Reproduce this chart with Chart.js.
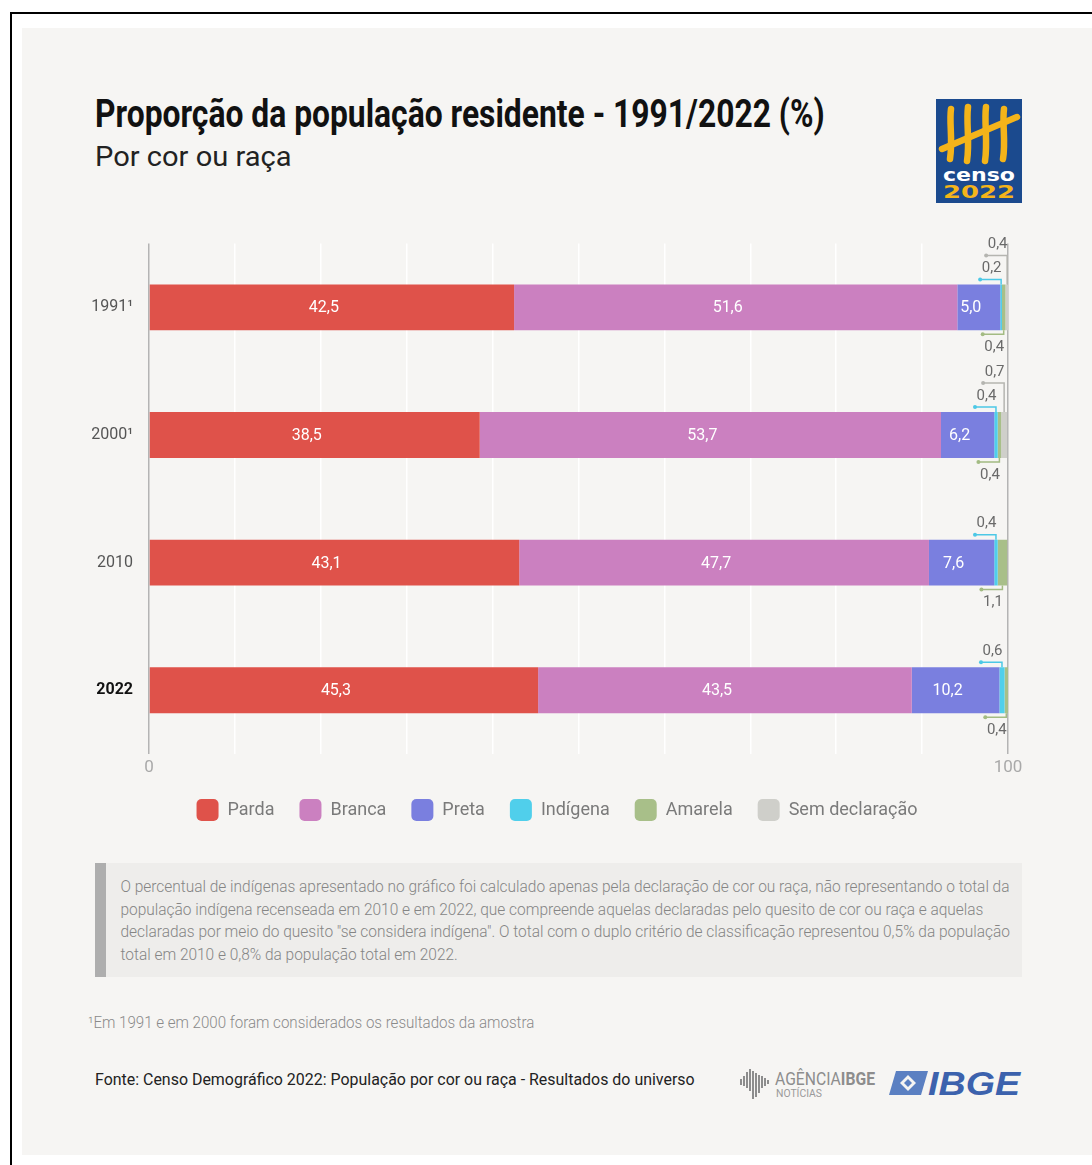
<!DOCTYPE html>
<html lang="pt-BR">
<head>
<meta charset="utf-8">
<title>Proporção da população residente - 1991/2022 (%)</title>
<script src="https://cdn.jsdelivr.net/npm/chart.js@4.4.1/dist/chart.umd.min.js"></script>
<style>
  html, body { margin: 0; padding: 0; background: #fff; }
  body {
    width: 1092px; height: 1165px; position: relative; overflow: hidden;
    font-family: Roboto, "DejaVu Sans Condensed", sans-serif;
  }
  .moldura { position: absolute; left: 10px; top: 12px; width: 1100px; height: 1170px;
    border-left: 2px solid #000; border-top: 2px solid #000; }
  .painel { position: absolute; left: 22px; top: 28px; width: 1080px; height: 1127px; background: #f6f5f3; }
  /* textos "condensados": Roboto comprimido no eixo x (ver script) */
  .cond { transform-origin: 0 50%; white-space: nowrap; }
  .titulo { position: absolute; left: 95px; top: 92px; margin: 0; font-size: 39px; line-height: 44px;
    font-weight: bold; color: #111; }
  .subtitulo { position: absolute; left: 95px; top: 141px; margin: 0; font-size: 27px; line-height: 32px;
    font-weight: normal; color: #222; }
  .logo-censo { position: absolute; left: 936px; top: 99px; }
  #grafico { position: absolute; left: 22px; top: 218px; width: 1070px; height: 631px; }
  .nota { position: absolute; left: 95px; top: 863px; width: 916px; height: 114px; background: #eeedeb;
    border-left: 11px solid #aeaeae; }
  .nota p { margin: 0; padding: 13px 0 0 15px; font-size: 16px; line-height: 22.7px; color: #858585; font-weight: 300; }
  .nota p span { display: block; }
  .rodape-nota { position: absolute; left: 88px; top: 1012px; font-size: 16px; line-height: 22px; color: #8a8a8a; font-weight: 300; }
  .fonte { position: absolute; left: 95px; top: 1069px; font-size: 16.5px; line-height: 22px; color: #222; }
  .logo-agencia { position: absolute; left: 738px; top: 1064px; }
  .logo-ibge { position: absolute; left: 888px; top: 1067px; }
</style>
</head>
<body>
<div class="moldura"></div>
<div class="painel"></div>

<h1 class="titulo cond" data-largura="730">Proporção da população residente - 1991/2022 (%)</h1>
<h2 class="subtitulo cond" data-largura="197">Por cor ou raça</h2>

<!-- logo do censo -->
<svg class="logo-censo" width="86" height="104" viewBox="0 0 86 104">
  <rect width="86" height="104" fill="#1b4a8e"/>
  <g stroke="#f4b41a" stroke-width="6.5" stroke-linecap="round" fill="none">
    <path d="M15 10 C13 24 17 40 14 60"/>
    <path d="M32 8 C30 24 34 42 31 62"/>
    <path d="M50 8 C48 24 52 42 49 62"/>
    <path d="M68 10 C66 24 70 42 67 60"/>
    <path d="M6 50 L81 18"/>
  </g>
  <text x="7" y="82" textLength="72" lengthAdjust="spacingAndGlyphs" fill="#fff"
        font-family="DejaVu Sans" font-weight="bold" font-size="17">censo</text>
  <text x="7" y="99" textLength="72" lengthAdjust="spacingAndGlyphs" fill="#f4b41a"
        font-family="DejaVu Sans" font-weight="bold" font-size="18">2022</text>
</svg>

<div id="grafico"><canvas id="barras"></canvas></div>

<div class="nota"><p class="cond" data-largura="889"><span>O percentual de indígenas apresentado no gráfico foi calculado apenas pela declaração de cor ou raça, não representando o total da</span><span>população indígena recenseada em 2010 e em 2022, que compreende aquelas declaradas pelo quesito de cor ou raça e aquelas</span><span>declaradas por meio do quesito "se considera indígena". O total com o duplo critério de classificação representou 0,5% da população</span><span>total em 2010 e 0,8% da população total em 2022.</span></p></div>

<div class="rodape-nota cond" data-largura="446">¹Em 1991 e em 2000 foram considerados os resultados da amostra</div>
<div class="fonte cond" data-largura="600">Fonte: Censo Demográfico 2022: População por cor ou raça - Resultados do universo</div>

<!-- logos do rodapé -->
<svg class="logo-agencia" width="140" height="38" viewBox="0 0 140 38">
  <g fill="#8d8d8d">
    <rect x="2" y="15" width="2" height="6"/><rect x="5" y="12" width="2" height="10"/>
    <rect x="8" y="8" width="2" height="16"/><rect x="11" y="5" width="2" height="22"/>
    <rect x="14" y="7" width="2" height="28"/><rect x="17" y="9" width="2" height="24"/>
    <rect x="20" y="11" width="2" height="18"/><rect x="23" y="12" width="2" height="12"/>
    <rect x="26" y="14" width="2" height="8"/><rect x="29" y="16" width="2" height="4"/>
  </g>
  <text x="37" y="21" fill="#8d8d8d" font-size="19" font-family="Roboto, sans-serif"
        textLength="100" lengthAdjust="spacingAndGlyphs">AGÊNCIA<tspan font-weight="bold">IBGE</tspan></text>
  <text x="38" y="33" fill="#9a9a9a" font-size="10.5" font-family="Roboto, sans-serif"
        textLength="46" lengthAdjust="spacingAndGlyphs">NOTÍCIAS</text>
</svg>
<svg class="logo-ibge" width="136" height="32" viewBox="0 0 136 32">
  <path d="M8 4 L40 4 L33 28 L1 28 Z" fill="#5b80c2"/>
  <path d="M20 8 L28 16 L20 24 L12 16 Z" fill="#f6f5f3"/>
  <path d="M20 12 L24 16 L20 20 L16 16 Z" fill="#5b80c2"/>
  <text x="40" y="28" fill="#3c62ad" font-size="33" font-style="italic" font-weight="bold"
        font-family="Liberation Sans, Arial, sans-serif" textLength="92" lengthAdjust="spacingAndGlyphs">IBGE</text>
</svg>

<script>
// Dados (Censo 2022 - IBGE), em %
const anos = ['1991¹', '2000¹', '2010', '2022'];
const parda = [42.5, 38.5, 43.1, 45.3];
const branca = [51.6, 53.7, 47.7, 43.5];
const preta = [5.0, 6.2, 7.6, 10.2];
const indigena = [0.2, 0.4, 0.4, 0.6];
const amarela = [0.4, 0.4, 1.1, 0.4];
const semDeclaracao = [0.4, 0.7, 0, 0];
const ticksX = [0, 100];

const cores = ['#df524a', '#cb80c0', '#7a7fdf', '#50cfeb', '#a8bf89', '#cfcfca'];
const fonte = 'Roboto, "DejaVu Sans Condensed", sans-serif';

// comprime o texto html até a largura medida na imagem
document.querySelectorAll('.cond').forEach(el => {
    let w;
    if (el.tagName === 'P') {
        // parágrafo da nota: mede só a primeira linha
        const s = el.querySelector('span');
        s.style.display = 'inline';
        w = s.getBoundingClientRect().width;
        s.style.display = 'block';
    } else {
        el.style.display = 'inline-block';
        w = el.scrollWidth;
    }
    el.style.transform = 'scaleX(' + (+el.dataset.largura / w) + ')';
});

Chart.defaults.font.family = fonte;

const fmt = v => v.toFixed(1).replace('.', ',');

// valores brancos dentro das barras grandes (no original ficam um pouco à esquerda do centro)
const rotulosInternos = {
    id: 'rotulosInternos',
    afterDatasetsDraw(chart) {
        const ctx = chart.ctx;
        ctx.save();
        ctx.font = '16px ' + fonte;
        ctx.fillStyle = '#ffffff';
        ctx.textAlign = 'center';
        ctx.textBaseline = 'middle';
        [0, 1, 2].forEach(i => {
            chart.getDatasetMeta(i).data.forEach((bar, j) => {
                const p = bar.getProps(['x', 'base', 'y'], true);
                ctx.fillText(fmt(chart.data.datasets[i].data[j]), (p.x + p.base) / 2 - 8, p.y + 1);
            });
        });
        ctx.restore();
    }
};

// valores pequenos fora da barra, com a "chave" ligando ao segmento
const rotulosExternos = {
    id: 'rotulosExternos',
    afterDatasetsDraw(chart) {
        const ctx = chart.ctx;
        const conf = [
            { ds: 3, lado: -1, nivel: 0, cor: '#4cc8e6' },  // indígena, em cima
            { ds: 5, lado: -1, nivel: 1, cor: '#b5b5b0' },  // sem declaração, mais acima
            { ds: 4, lado: 1, nivel: 0, cor: '#a3bb83' }    // amarela, embaixo
        ];
        ctx.save();
        ctx.font = '15px ' + fonte;
        ctx.textAlign = 'center';
        ctx.textBaseline = 'middle';
        conf.forEach(c => {
            chart.getDatasetMeta(c.ds).data.forEach((bar, j) => {
                const v = chart.data.datasets[c.ds].data[j];
                if (!v) return;
                const p = bar.getProps(['x', 'base', 'y', 'height'], true);
                const mx = (p.x + p.base) / 2;
                const borda = c.lado < 0 ? p.y - p.height / 2 : p.y + p.height / 2;
                const ly = c.lado < 0 ? borda - 5 - c.nivel * 24 : borda + 4;
                const dx = mx - 21;
                ctx.strokeStyle = c.cor;
                ctx.lineWidth = 1.5;
                ctx.beginPath();
                ctx.moveTo(mx, borda);
                ctx.lineTo(mx, ly);
                ctx.lineTo(dx, ly);
                ctx.stroke();
                ctx.fillStyle = c.cor;
                ctx.beginPath();
                ctx.arc(dx, ly, 2, 0, Math.PI * 2);
                ctx.fill();
                ctx.fillStyle = '#6a6a6a';
                ctx.fillText(fmt(v), (mx + dx) / 2 + 1, c.lado < 0 ? ly - 11 : ly + 13);
            });
        });
        ctx.restore();
    }
};

// a legenda do original fica um pouco à direita do centro e mais perto do eixo
const ajusteLegenda = {
    id: 'ajusteLegenda',
    afterLayout(chart) {
        chart.legend.left += 12;
        chart.legend.right += 12;
        chart.legend.top -= 14;
        chart.legend.bottom -= 14;
    }
};

const series = [
    ['Parda', parda], ['Branca', branca], ['Preta', preta],
    ['Indígena', indigena], ['Amarela', amarela], ['Sem declaração', semDeclaracao]
];

new Chart(document.getElementById('barras'), {
    type: 'bar',
    data: {
        labels: anos,
        datasets: series.map((s, i) => ({
            label: s[0],
            data: s[1],
            backgroundColor: cores[i],
            borderWidth: 0,
            barPercentage: 0.36,
            categoryPercentage: 1
        }))
    },
    options: {
        indexAxis: 'y',
        responsive: true,
        maintainAspectRatio: false,
        animation: false,
        layout: { padding: { left: 60, right: 84, top: 4, bottom: 4 } },
        plugins: {
            tooltip: { enabled: false },
            legend: {
                position: 'bottom',
                labels: {
                    boxWidth: 22,
                    boxHeight: 22,
                    useBorderRadius: true,
                    borderRadius: 5,
                    color: '#7a7a7a',
                    font: { size: 18 },
                    padding: 25
                }
            }
        },
        scales: {
            x: {
                stacked: true,
                min: 0,
                max: 100,
                ticks: {
                    stepSize: 10,
                    autoSkip: false,
                    maxRotation: 0,
                    color: '#a9a9a9',
                    font: { size: 17 },
                    padding: 4,
                    callback: v => ticksX.includes(v) ? v : ''
                },
                grid: {
                    drawTicks: false,
                    color: c => (c.tick && ticksX.includes(c.tick.value)) ? '#b4b4b4' : '#ffffff',
                    lineWidth: 1.5
                },
                border: { display: false },
                afterFit: s => { s.height = 34; }
            },
            y: {
                stacked: true,
                grid: { display: false, drawTicks: false },
                border: { display: false },
                ticks: {
                    padding: 16,
                    color: c => c.index === 3 ? '#111' : '#555',
                    font: c => ({ size: 16, weight: c.index === 3 ? 'bold' : 'normal' })
                },
                afterFit: s => { s.width = 67; }
            }
        }
    },
    plugins: [rotulosInternos, rotulosExternos, ajusteLegenda]
});
</script>
</body>
</html>
